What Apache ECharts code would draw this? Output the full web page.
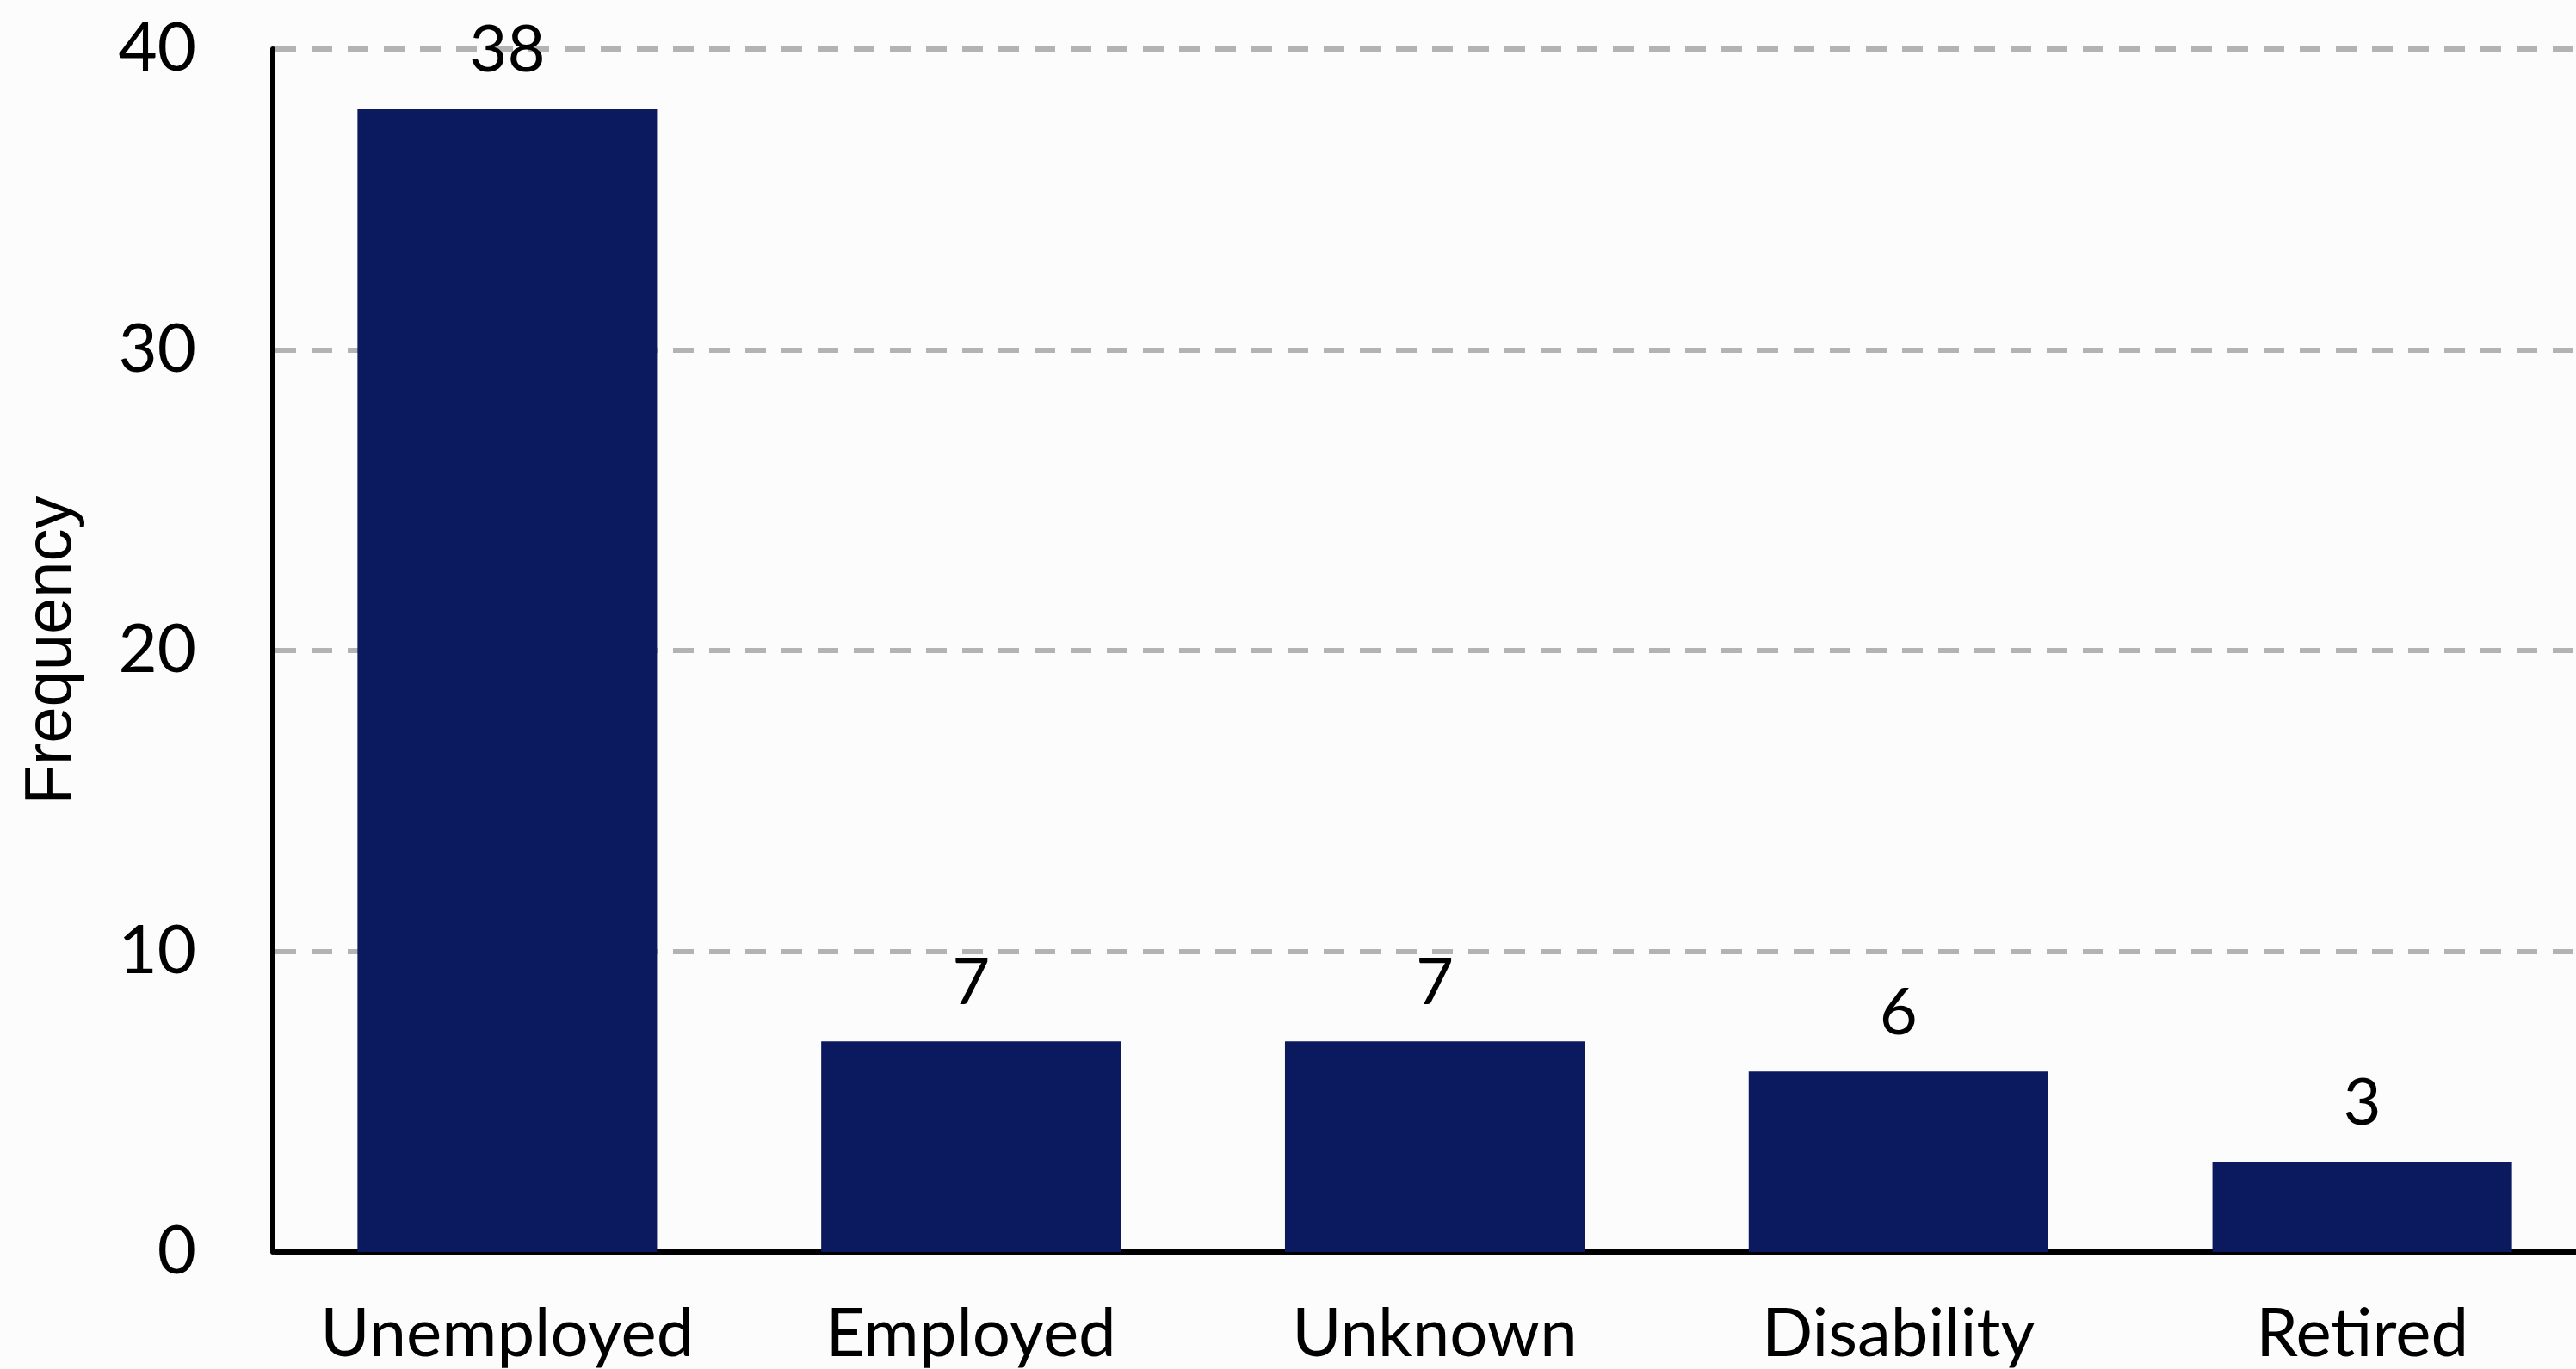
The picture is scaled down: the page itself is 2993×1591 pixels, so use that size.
<!DOCTYPE html>
<html><head><meta charset="utf-8">
<script src="https://cdn.jsdelivr.net/npm/echarts@6/dist/echarts.min.js"></script>
<style>html,body{margin:0;padding:0;background:#fcfcfc}#c{width:2993px;height:1591px}</style>
</head><body><div id="c"></div>
<script>
const categories = ['Unemployed', 'Employed', 'Unknown', 'Disability', 'Retired'];
const frequency = [38, 7, 7, 6, 3];
const yTicks = { min: 0, max: 40, interval: 10 };

const chart = echarts.init(document.getElementById('c'), null, { renderer: 'canvas' });
chart.setOption({
  backgroundColor: '#fcfcfc',
  animation: false,
  grid: { left: 320, width: 2694, top: 57, bottom: 136, containLabel: false, outerBoundsMode: 'none' },
  xAxis: {
    type: 'category',
    data: categories,
    axisLine: { show: true, lineStyle: { color: '#000', width: 6 } },
    axisTick: { show: false },
    axisLabel: { color: '#000', fontFamily: 'Lato', fontSize: 78, margin: 57, interval: 0, hideOverlap: false }
  },
  yAxis: {
    type: 'value',
    min: yTicks.min, max: yTicks.max, interval: yTicks.interval,
    offset: 3,
    name: 'Frequency',
    nameLocation: 'middle',
    nameGap: 218,
    nameTextStyle: { color: '#000', fontFamily: 'Liberation Sans', fontSize: 76 },
    axisLine: { show: true, lineStyle: { color: '#000', width: 6 } },
    axisTick: { show: false },
    axisLabel: { color: '#000', fontFamily: 'Lato', fontSize: 78, margin: 89 },
    splitLine: { show: true, lineStyle: { color: '#b3b3b3', width: 6, type: [24, 18] } }
  },
  series: [{
    type: 'bar',
    data: frequency,
    barCategoryGap: '35.4%',
    itemStyle: { color: '#0b195e' },
    label: { show: true, position: 'top', distance: 30, color: '#000', fontFamily: 'Lato', fontSize: 76 }
  }]
});
</script></body></html>
